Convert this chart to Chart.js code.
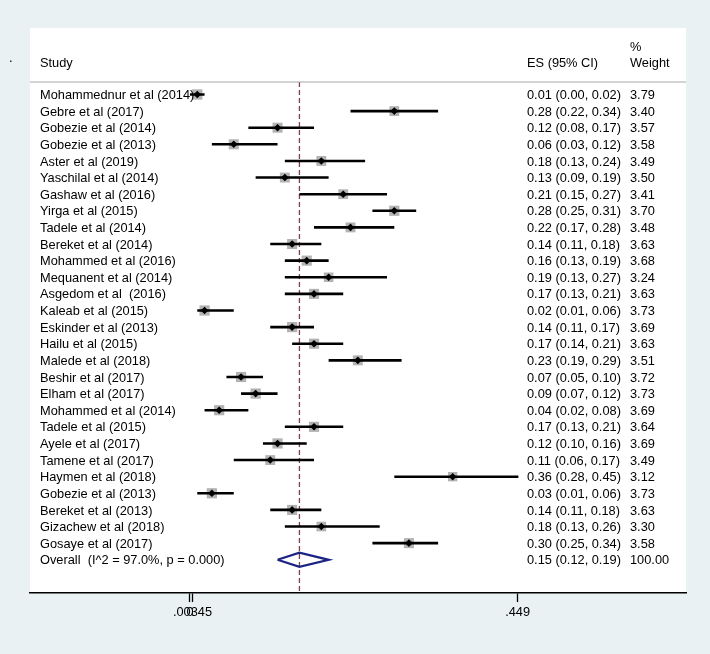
<!DOCTYPE html>
<html>
<head>
<meta charset="utf-8">
<script src="https://cdn.jsdelivr.net/npm/chart.js@4"></script>
<style>
  html,body{margin:0;padding:0;background:#eaf1f3;}
  #wrap{width:710px;height:654px;}
</style>
</head>
<body>
<div id="wrap"><canvas id="forest" width="710" height="654"></canvas></div>
<script>
// Studies, top to bottom
const studies=['Mohammednur et al (2014)','Gebre et al (2017)','Gobezie et al (2014)','Gobezie et al (2013)','Aster et al (2019)',
  'Yaschilal et al (2014)','Gashaw et al (2016)','Yirga et al (2015)','Tadele et al (2014)','Bereket et al (2014)',
  'Mohammed et al (2016)','Mequanent et al (2014)','Asgedom et al  (2016)','Kaleab et al (2015)','Eskinder et al (2013)',
  'Hailu et al (2015)','Malede et al (2018)','Beshir et al (2017)','Elham et al (2017)','Mohammed et al (2014)',
  'Tadele et al (2015)','Ayele et al (2017)','Tamene et al (2017)','Haymen et al (2018)','Gobezie et al (2013)',
  'Bereket et al (2013)','Gizachew et al (2018)','Gosaye et al (2017)'];
const es=[0.01,0.28,0.12,0.06,0.18,0.13,0.21,0.28,0.22,0.14,0.16,0.19,0.17,0.02,0.14,0.17,0.23,0.07,0.09,0.04,0.17,0.12,0.11,0.36,0.03,0.14,0.18,0.30];
const lo=[0.00,0.22,0.08,0.03,0.13,0.09,0.15,0.25,0.17,0.11,0.13,0.13,0.13,0.01,0.11,0.14,0.19,0.05,0.07,0.02,0.13,0.10,0.06,0.28,0.01,0.11,0.13,0.25];
const hi=[0.02,0.34,0.17,0.12,0.24,0.19,0.27,0.31,0.28,0.18,0.19,0.27,0.21,0.06,0.17,0.21,0.29,0.10,0.12,0.08,0.21,0.16,0.17,0.45,0.06,0.18,0.26,0.34];
const weight=[3.79,3.40,3.57,3.58,3.49,3.50,3.41,3.70,3.48,3.63,3.68,3.24,3.63,3.73,3.69,3.63,3.51,3.72,3.73,3.69,3.64,3.69,3.49,3.12,3.73,3.63,3.30,3.58];
// Pooled estimate
const overallLabel='Overall  (I^2 = 97.0%, p = 0.000)';
const overallES=0.15, overallLo=0.12, overallHi=0.19, overallWeight=100.00;
// x axis ticks
const xTicks=[0,0.00345,0.449];
const xTickLabels=['0','.00345','.449'];

const FONT='"Liberation Sans", Arial, Helvetica, sans-serif';
const nRows=studies.length;          // overall sits on row nRows
const f2=v=>v.toFixed(2);

const boxData=studies.map((s,i)=>({x:es[i],y:i}));
const ciData=studies.flatMap((s,i)=>[{x:lo[i],y:i},{x:hi[i],y:i},{x:hi[i],y:null}]);
const diamond=[{x:overallLo,y:nRows},{x:overallES,y:nRows-0.43},{x:overallHi,y:nRows},{x:overallES,y:nRows+0.43},{x:overallLo,y:nRows}];
const refLine=[{x:overallES,y:-0.75},{x:overallES,y:30}];

// panel background + texts
const panel={
  id:'panel',
  beforeDraw(c){
    const {ctx,chartArea:a}=c;
    ctx.save();
    ctx.fillStyle='#eaf1f3'; ctx.fillRect(0,0,c.width,c.height);
    ctx.fillStyle='#fff'; ctx.fillRect(a.left,a.top,a.right-a.left,a.bottom-a.top);
    ctx.restore();
  },
  afterDraw(c){
    const {ctx,chartArea:a}=c, y=c.scales.y;
    ctx.save();
    ctx.fillStyle='#000'; ctx.font=`12.8px ${FONT}`; ctx.textBaseline='alphabetic'; ctx.textAlign='left';
    ctx.fillText('.',9,62);
    ctx.fillText('Study',40,67);
    ctx.fillText('ES (95% CI)',527,67);
    ctx.fillText('%',630,51);
    ctx.fillText('Weight',630,67);
    // separator under header
    ctx.strokeStyle='#a8a8a8'; ctx.lineWidth=1.2;
    const sy=y.getPixelForValue(-0.75);
    ctx.beginPath(); ctx.moveTo(a.left,sy); ctx.lineTo(a.right,sy); ctx.stroke();
    studies.forEach((s,i)=>{
      const py=y.getPixelForValue(i)+4.6;
      ctx.fillText(s,40,py);
      ctx.fillText(`${f2(es[i])} (${f2(lo[i])}, ${f2(hi[i])})`,527,py);
      ctx.fillText(f2(weight[i]),630,py);
    });
    const oy=y.getPixelForValue(nRows)+4.6;
    ctx.fillText(overallLabel,40,oy);
    ctx.fillText(`${f2(overallES)} (${f2(overallLo)}, ${f2(overallHi)})`,527,oy);
    ctx.fillText(f2(overallWeight),630,oy);
    ctx.restore();
  }
};

new Chart(document.getElementById('forest'),{
  type:'scatter',
  data:{datasets:[
    {label:'ref',type:'line',data:refLine,borderColor:'#b3283a',borderWidth:1.3,borderDash:[5,3],pointRadius:0,order:4},
    {label:'box',data:boxData,pointStyle:'rect',pointRadius:weight.map(w=>5.3*Math.sqrt(w)/Math.SQRT2),backgroundColor:'#b3b3b3',borderWidth:0,order:3},
    {label:'ci',type:'line',data:ciData,borderColor:'#000',borderWidth:2.6,pointRadius:0,spanGaps:false,order:2},
    {label:'es',data:boxData,pointStyle:'rectRot',pointRadius:3.8,backgroundColor:'#000',borderWidth:0,order:1},
    {label:'overall',type:'line',data:diamond,borderColor:'#1b2383',borderWidth:2.3,pointRadius:0,fill:false,order:1}
  ]},
  options:{
    responsive:false, animation:false,
    layout:{padding:{left:30,right:24,top:28,bottom:0}},
    plugins:{legend:{display:false},tooltip:{enabled:false}},
    scales:{
      x:{type:'linear',min:-0.2192,max:0.6797,
        afterBuildTicks:s=>{s.ticks=xTicks.map(v=>({value:v}));},
        afterFit:s=>{s.height=61;},
        border:{display:true,color:'#000',width:1.5},
        grid:{drawOnChartArea:false,drawTicks:true,tickLength:9,color:'#000',tickWidth:1.3},
        ticks:{autoSkip:false,maxRotation:0,padding:3,color:'#000',font:{family:FONT,size:12.8},
          callback:(v,i)=>xTickLabels[i]}},
      y:{type:'linear',reverse:true,min:-4,max:30,display:false}
    }
  },
  plugins:[panel]
});
</script>
</body>
</html>
